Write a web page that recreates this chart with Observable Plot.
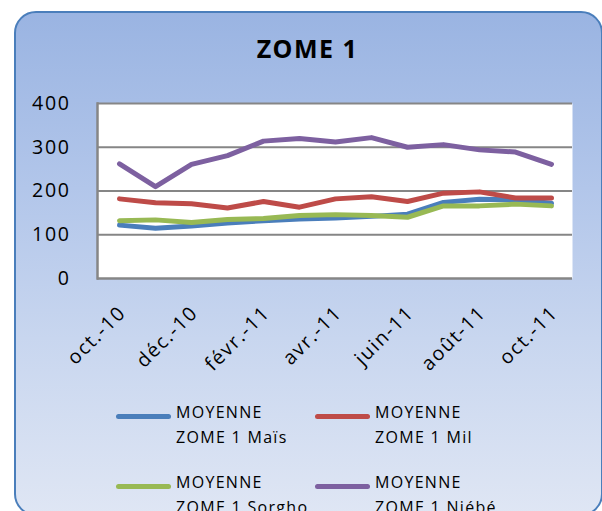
<!DOCTYPE html>
<html>
<head>
<meta charset="utf-8">
<script src="https://cdn.jsdelivr.net/npm/d3@7"></script>
<script src="https://cdn.jsdelivr.net/npm/@observablehq/plot@0.6"></script>
<style>
  html, body { margin: 0; padding: 0; background: #ffffff; }
  body { width: 602px; height: 511px; position: relative; overflow: hidden; font-family: "Open Sans", sans-serif; }
  #box { position: absolute; left: 14px; top: 11px; width: 589px; height: 505px; box-sizing: border-box;
         border: 2px solid #4a7ebb; border-radius: 22px;
         background: linear-gradient(to bottom, #9ab4e2 0%, #b2c6ea 35%, #c8d6ef 65%, #dfe6f4 100%); }
  #title { position: absolute; left: 0; width: 615px; top: 31px; text-align: center; font-weight: 700;
           font-size: 25px; letter-spacing: 1.5px; color: #000; }
  #chart { position: absolute; left: 0; top: 0; }
  #chart svg { overflow: visible; }
  #chart [aria-label="y-axis tick label"] text, #chart [aria-label="x-axis tick label"] text { letter-spacing: 1.6px; }
  .leg { position: absolute; font-size: 16px; letter-spacing: 1.3px; line-height: 25px; color: #000; }
  .sw { position: absolute; width: 55px; height: 5px; border-radius: 3px; }
</style>
</head>
<body>
<div id="box"></div>
<div id="title">ZOME 1</div>
<div id="chart"></div>
<div id="legend"></div>
<script>
const months = ["oct.-10","nov.-10","déc.-10","janv.-11","févr.-11","mars-11","avr.-11","mai-11","juin-11","juil.-11","août-11","sept.-11","oct.-11"];
const seriesNames = ["MOYENNE ZOME 1 Maïs","MOYENNE ZOME 1 Mil","MOYENNE ZOME 1 Sorgho","MOYENNE ZOME 1 Niébé"];
const mais   = [122, 115, 120, 127, 132, 136, 138, 142, 147, 174, 181, 180, 172];
const mil    = [182, 173, 171, 161, 176, 163, 182, 187, 176, 195, 198, 184, 184];
const sorgho = [132, 134, 128, 135, 137, 144, 146, 144, 140, 166, 166, 170, 166];
const niebe  = [262, 210, 261, 281, 314, 320, 312, 322, 300, 306, 294, 289, 261];
const yTicks = [0, 100, 200, 300, 400];
const xTicks = ["oct.-10","déc.-10","févr.-11","avr.-11","juin-11","août-11","oct.-11"];
const colors = ["#4a7ebb", "#be4b48", "#98b954", "#7d60a0"];

const values = [mais, mil, sorgho, niebe];
const data = [];
values.forEach((vals, s) => vals.forEach((v, i) => data.push({series: seriesNames[s], month: months[i], value: v})));

const chart = Plot.plot({
  width: 602,
  height: 340,
  marginLeft: 97,
  marginRight: 30,
  marginTop: 103,
  marginBottom: 62,
  style: {background: "transparent", fontFamily: "Open Sans", color: "#000", overflow: "visible"},
  x: {type: "point", domain: months, padding: 0.5, label: null},
  y: {domain: [0, 400], label: null},
  color: {domain: seriesNames, range: colors},
  marks: [
    Plot.frame({fill: "white", stroke: "none"}),
    Plot.gridY(yTicks.filter(d => d > 0), {stroke: "#868686", strokeOpacity: 1, strokeWidth: 2}),
    Plot.ruleY([0], {stroke: "#868686", strokeWidth: 2.5}),
    Plot.frame({anchor: "left", stroke: "#868686", strokeWidth: 2.5}),
    Plot.axisY({ticks: yTicks, tickSize: 0, tickPadding: 27, fontSize: 19.6, fill: "#000", label: null}),
    Plot.axisX({ticks: xTicks, tickSize: 0, tickRotate: -45, tickPadding: 26, dx: 3, dy: 5, fontSize: 19.6, fill: "#000", label: null}),
    Plot.line(data, {x: "month", y: "value", z: "series", stroke: "series", strokeWidth: 5, strokeLinecap: "round", strokeLinejoin: "round"})
  ]
});
document.getElementById("chart").appendChild(chart);

// legend
const legend = document.getElementById("legend");
const pos = [[116, 416], [315, 416], [116, 486], [315, 486]];
seriesNames.forEach((name, i) => {
  const [x, y] = pos[i];
  const sw = document.createElement("div");
  sw.className = "sw";
  sw.style.left = x + "px";
  sw.style.top = (y - 2.5) + "px";
  sw.style.background = colors[i];
  legend.appendChild(sw);
  const t = document.createElement("div");
  t.className = "leg";
  t.style.left = (x + 60) + "px";
  t.style.top = (y - 16) + "px";
  const parts = name.split(" ");
  t.innerHTML = parts[0] + "<br>" + parts.slice(1).join(" ");
  legend.appendChild(t);
});
</script>
</body>
</html>
